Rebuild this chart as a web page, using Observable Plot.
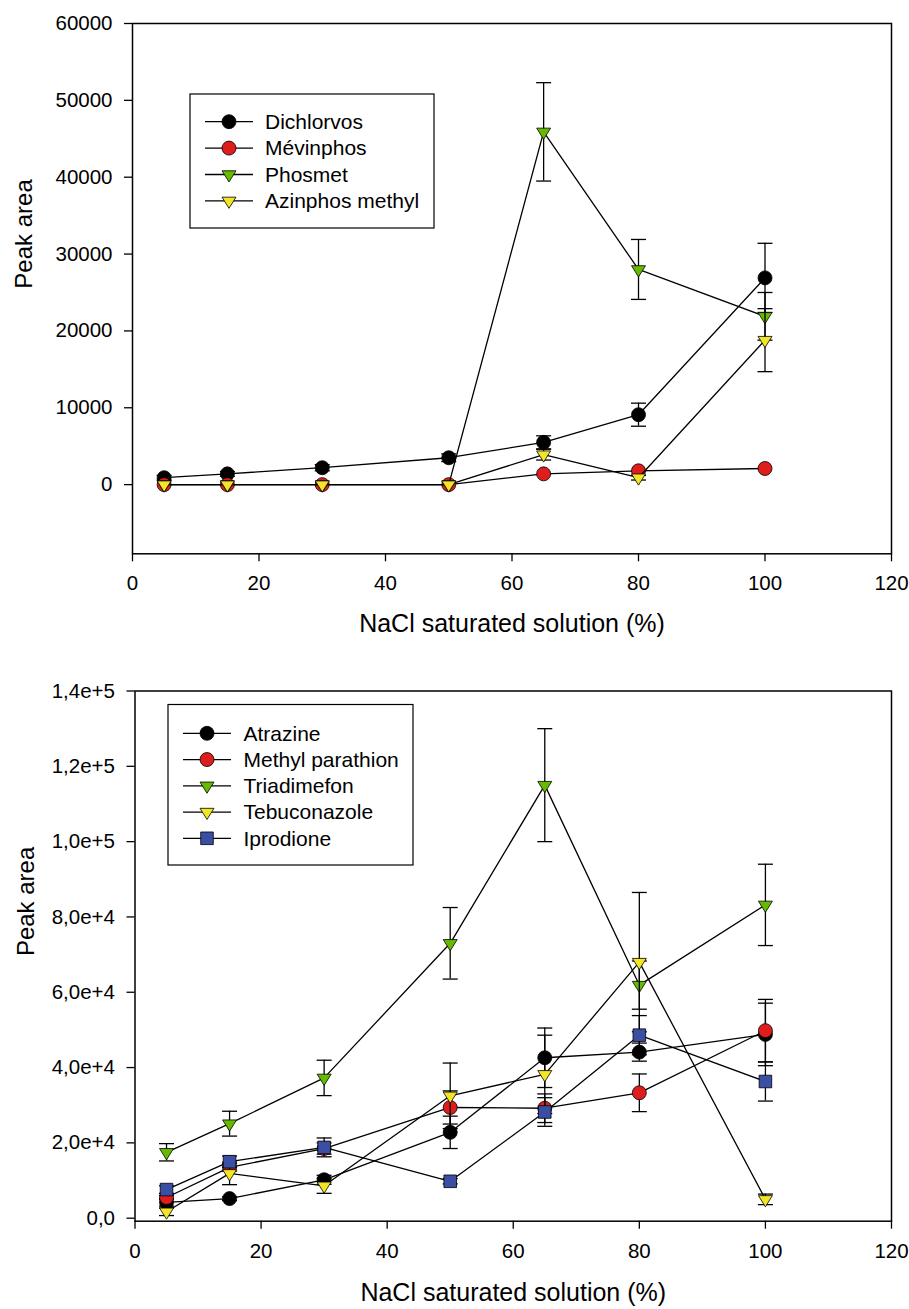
<!DOCTYPE html>
<html>
<head>
<meta charset="utf-8">
<script src="https://cdn.jsdelivr.net/npm/d3@7"></script>
<script src="https://cdn.jsdelivr.net/npm/@observablehq/plot@0.6"></script>
<style>
  html, body { margin: 0; padding: 0; background: #fff; }
  body { font-family: "Liberation Sans", Arial, sans-serif; }
  #wrap { position: relative; width: 909px; height: 1309px; overflow: hidden; }
  .chart { position: absolute; left: 0; }
  #legend { position: absolute; left: 0; top: 0; pointer-events: none; }
</style>
</head>
<body>
<div id="wrap">
  <div id="chart1" class="chart" style="top:0px"></div>
  <div id="chart2" class="chart" style="top:650px"></div>
</div>
<script>
// ---------- DATA ----------
const xValues = [5, 15, 30, 50, 65, 80, 100];
const xTicks = [0, 20, 40, 60, 80, 100, 120];
const topYTicks = [0, 10000, 20000, 30000, 40000, 50000, 60000];
const bottomYTicks = [0, 20000, 40000, 60000, 80000, 100000, 120000, 140000];
const xTitle = "NaCl saturated solution (%)";
const yTitle = "Peak area";

// Top chart
const topNames = ["Dichlorvos", "Mévinphos", "Phosmet", "Azinphos methyl"];
const dichlorvos    = [900, 1400, 2200, 3500, 5500, 9100, 26900];
const dichlorvosErr = [300, 300, 400, 500, 850, 1500, 4500];
const mevinphos     = [0, 0, 0, 0, 1400, 1800, 2100];
const mevinphosErr  = [0, 0, 0, 0, 0, 0, 0];
const phosmet       = [0, 0, 0, 0, 45900, 28000, 21900];
const phosmetErr    = [0, 0, 0, 0, 6400, 3900, 3100];
const azinphos      = [0, 0, 0, 0, 3900, 900, 18800];
const azinphosErr   = [0, 0, 0, 0, 700, 300, 4100];

// Bottom chart
const bottomNames = ["Atrazine", "Methyl parathion", "Triadimefon", "Tebuconazole", "Iprodione"];
const atrazine        = [4200, 5200, 10200, 22800, 42600, 44100, 48800];
const atrazineErr     = [1000, 500, 1200, 4300, 7900, 2400, 8300];
const methylParathion = [5500, 13500, 18500, 29400, 29200, 33300, 49800];
const methylParErr    = [500, 1000, 1500, 4400, 3800, 5000, 8300];
const triadimefon     = [17500, 25100, 37250, 73000, 115000, 61900, 83200];
const triadimefonErr  = [2300, 3300, 4700, 9500, 15000, 6400, 10800];
const tebuconazole    = [1700, 11900, 8600, 32500, 38200, 68000, 5000];
const tebuconazoleErr = [1000, 3000, 2000, 8700, 10400, 18500, 1400];
const iprodione       = [7600, 15000, 18800, 9800, 28200, 48600, 36300];
const iprodioneErr    = [1000, 1500, 2500, 700, 3800, 5200, 5200];

// ---------- STYLE ----------
const FONT = "Liberation Sans, Arial, sans-serif";
const C_BLACK = "#000000", C_RED = "#de1d1d", C_GREEN = "#66bb00", C_YELLOW = "#f2e526", C_BLUE = "#3a4ea3";

const triDown = {draw(ctx, size) {
  const r = Math.sqrt(size / Math.PI); const w = 2 * r, h = 1.6 * r;
  ctx.moveTo(-w / 2, -h / 3); ctx.lineTo(w / 2, -h / 3); ctx.lineTo(0, 2 * h / 3); ctx.closePath();
}};
const squareSym = {draw(ctx, size) {
  const r = Math.sqrt(size / Math.PI); const s = 1.8 * r;
  ctx.rect(-s / 2, -s / 2, s, s);
}};
const capSym = {draw(ctx, size) { ctx.moveTo(-7.5, 0); ctx.lineTo(7.5, 0); }};

function seriesMarks(ys, errs, sym, fill) {
  const data = xValues.map((x, i) => ({x, y: ys[i], e: errs[i]}));
  const withErr = data.filter(d => d.e > 0);
  const caps = withErr.flatMap(d => [{x: d.x, y: d.y - d.e}, {x: d.x, y: d.y + d.e}]);
  return [
    Plot.ruleX(withErr, {x: "x", y1: d => d.y - d.e, y2: d => d.y + d.e, stroke: "#000", strokeWidth: 1.3}),
    Plot.dot(caps, {x: "x", y: "y", symbol: capSym, r: 7, stroke: "#000", strokeWidth: 1.3, fill: "none"}),
    Plot.line(data, {x: "x", y: "y", stroke: "#000", strokeWidth: 1.3}),
    Plot.dot(data, {x: "x", y: "y", symbol: sym, r: 7, fill, stroke: "#000", strokeWidth: 0.8})
  ];
}

function makeChart({height, mt, mb, ml, mr, yDomain, yTicks, yFormat, series, titleDy}) {
  return Plot.plot({
    width: 909, height,
    marginTop: mt, marginBottom: mb, marginLeft: ml, marginRight: mr,
    style: {fontFamily: FONT, fontSize: "20.5px", color: "#000", background: "#fff", overflow: "visible"},
    x: {domain: [0, 120], ticks: xTicks, label: null},
    y: {domain: yDomain, ticks: yTicks, label: null},
    marks: [
      Plot.axisX({ticks: xTicks, tickSize: 8, tickPadding: 14, tickFormat: d => String(d), label: null, strokeWidth: 1.3, fontSize: 20.5}),
      Plot.axisY({ticks: yTicks, tickSize: 8, tickPadding: 12, tickFormat: yFormat, label: null, strokeWidth: 1.3, fontSize: 20.5}),
      ...series.flatMap(s => seriesMarks(...s)),
      Plot.frame({stroke: "#000", strokeWidth: 1.5}),
      Plot.text([xTitle], {text: d => d, frameAnchor: "bottom", dy: titleDy, lineAnchor: "middle", fontSize: 25, fill: "#000"}),
      Plot.text([yTitle], {text: d => d, frameAnchor: "left", dx: -108.5, rotate: -90, lineAnchor: "middle", fontSize: 24, fill: "#000"})
    ]
  });
}

const chart1 = makeChart({
  height: 650, mt: 23, mb: 96.7, ml: 132, mr: 18,
  yDomain: [-9000, 60000], yTicks: topYTicks, yFormat: d => String(d), titleDy: 70,
  series: [
    [dichlorvos, dichlorvosErr, "circle", C_BLACK],
    [mevinphos, mevinphosErr, "circle", C_RED],
    [phosmet, phosmetErr, triDown, C_GREEN],
    [azinphos, azinphosErr, triDown, C_YELLOW]
  ]
});
document.getElementById("chart1").appendChild(chart1);

const chart2 = makeChart({
  height: 659, mt: 40.5, mb: 88.3, ml: 134.5, mr: 18,
  yDomain: [-800, 140000], yTicks: bottomYTicks,
  yFormat: d => d === 0 ? "0,0" : d.toExponential(1).replace(".", ","), titleDy: 72,
  series: [
    [atrazine, atrazineErr, "circle", C_BLACK],
    [methylParathion, methylParErr, "circle", C_RED],
    [triadimefon, triadimefonErr, triDown, C_GREEN],
    [tebuconazole, tebuconazoleErr, triDown, C_YELLOW],
    [iprodione, iprodioneErr, squareSym, C_BLUE]
  ]
});
document.getElementById("chart2").appendChild(chart2);

// ---------- LEGENDS (overlay) ----------
const svg = d3.select("#wrap").append("svg").attr("id", "legend")
  .attr("width", 909).attr("height", 1309);

function legend(box, lineX, textX, rowY, symbols, fills, names) {
  svg.append("rect").attr("x", box[0]).attr("y", box[1]).attr("width", box[2] - box[0]).attr("height", box[3] - box[1])
    .attr("fill", "#fff").attr("stroke", "#000").attr("stroke-width", 1.2);
  names.forEach((name, i) => {
    const y = rowY[0] + i * rowY[1];
    svg.append("line").attr("x1", lineX[0]).attr("x2", lineX[1]).attr("y1", y).attr("y2", y)
      .attr("stroke", "#000").attr("stroke-width", 1.3);
    const mx = (lineX[0] + lineX[1]) / 2;
    const sym = symbols[i] === "circle" ? d3.symbolCircle : symbols[i];
    svg.append("path").attr("d", d3.symbol(sym, 49 * Math.PI)())
      .attr("transform", `translate(${mx},${y})`).attr("fill", fills[i]).attr("stroke", "#000").attr("stroke-width", 0.8);
    svg.append("text").attr("x", textX).attr("y", y).attr("dy", "0.35em")
      .attr("font-family", FONT).attr("font-size", 21).attr("fill", "#000").text(name);
  });
}
legend([190, 94, 434, 228], [205, 253], 265, [121.7, 26.4],
  ["circle", "circle", triDown, triDown], [C_BLACK, C_RED, C_GREEN, C_YELLOW], topNames);
legend([168, 704.5, 413, 865], [183, 231], 243.5, [733.3, 26.25],
  ["circle", "circle", triDown, triDown, squareSym], [C_BLACK, C_RED, C_GREEN, C_YELLOW, C_BLUE], bottomNames);
</script>
</body>
</html>
